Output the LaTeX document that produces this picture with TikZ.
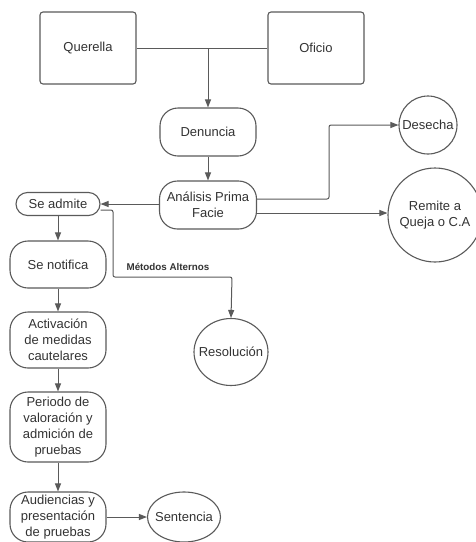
\documentclass[tikz,border=0pt]{standalone}
\usepackage{fontspec}
\setmainfont{Liberation Sans}
\usetikzlibrary{arrows.meta,shapes.geometric}
\definecolor{ln}{HTML}{5A5A5A}
\definecolor{tx}{HTML}{333333}
\newcommand{\zw}[1]{\makebox[0pt]{#1}}
\tikzset{
  base/.style={draw=ln, line width=1.1pt, fill=white, text=tx, align=center, inner sep=0pt,
    font=\fontsize{13}{16}\selectfont},
  sqbox/.style={base, rectangle, rounded corners=3pt, minimum width=96pt, minimum height=72pt},
  rbox/.style={base, rectangle, rounded corners=18pt},
  circ/.style={base, circle},
  ell/.style={base, ellipse},
  arr/.style={draw=ln, line width=1pt, -{Triangle[length=8pt,width=6pt]}},
  ln/.style={draw=ln, line width=1pt},
}
\begin{document}
\begin{tikzpicture}[x=1pt,y=-1pt]
\fill[white] (0,0) rectangle (475,542);
\useasboundingbox (0,0) rectangle (475,542);

\node[sqbox] (q) at (88,48) {Querella};
\node[sqbox] (o) at (316,48) {Oficio};
\node[rbox, minimum width=96pt, minimum height=48pt] (den) at (208,132) {Denuncia};
\node[rbox, minimum width=97pt, minimum height=48pt] (ana) at (208,205) {Análisis Prima\\Facie};
\node[circ, minimum size=58pt] (des) at (428,125) {\zw{Desecha}};
\node[circ, minimum size=94pt] (rem) at (435,215) {\zw{Remite a}\\\zw{Queja o C.A}};
\node[rbox, rounded corners=11.5pt, minimum width=84pt, minimum height=23pt] (sa) at (58,204) {Se admite};
\node[rbox, minimum width=96pt, minimum height=47pt] (sn) at (58,264.5) {Se notifica};
\node[rbox, minimum width=96pt, minimum height=56pt] (act) at (58,340) {Activación\\de medidas\\cautelares};
\node[rbox, minimum width=96pt, minimum height=70pt] (per) at (58,427) {Periodo de\\valoración y\\admición de\\pruebas};
\node[rbox, minimum width=96pt, minimum height=50pt] (aud) at (58,517) {Audiencias y\\presentación\\de pruebas};
\node[ell, minimum width=73pt, minimum height=50pt] (sen) at (184,517) {\zw{Sentencia}};
\node[ell, minimum width=74pt, minimum height=67pt] (res) at (231,352) {\zw{Resolución}};

\coordinate (j) at (208,48);
\draw[ln] (q.east) -- (o.west);
\draw[arr] (j) -- (den.north);
\draw[arr] (den.south) -- (ana.north);
\draw[arr, rounded corners=2pt] ([yshift=6pt]ana.east) -| (329,125) -- (des.west);
\draw[arr] ([yshift=-8pt]ana.east) -- (rem.west |- 0,213);
\draw[arr] (ana.west |- sa.east) -- (sa.east);
\draw[arr, rounded corners=2pt] ([yshift=-6pt]sa.east) -- (113,210) -- (113,277) -- (232,277) -- (res.north);
\node[text=tx, font=\fontsize{9.8}{12}\selectfont\bfseries] (lbl) at (168,267) {Métodos Alternos};
\draw[arr] (sa.south) -- (sn.north);
\draw[arr] (sn.south) -- (act.north);
\draw[arr] (act.south) -- (per.north);
\draw[arr] (per.south) -- (aud.north);
\draw[arr] (aud.east) -- (sen.west);
\end{tikzpicture}
\end{document}
